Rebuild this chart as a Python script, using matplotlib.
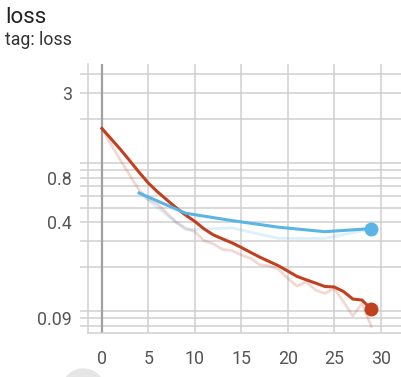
import numpy as np
import matplotlib
matplotlib.use('Agg')
import matplotlib.pyplot as plt
from matplotlib.patches import Ellipse

plt.rcParams['font.family'] = ['Roboto', 'DejaVu Sans']

# train loss (red), one value per step
train_steps = list(range(30))
train_raw = [1.72, 1.33, 1.05, 0.83, 0.66, 0.57, 0.53, 0.46, 0.40, 0.365,
             0.345, 0.30, 0.285, 0.262, 0.257, 0.24, 0.228, 0.206, 0.203, 0.192,
             0.167, 0.148, 0.158, 0.139, 0.132, 0.143, 0.116, 0.093, 0.113, 0.079]
train_smooth = [1.72, 1.46, 1.24, 1.04, 0.87, 0.735, 0.64, 0.565, 0.50, 0.447,
                0.405, 0.36, 0.328, 0.308, 0.29, 0.27, 0.25, 0.232, 0.217, 0.203,
                0.187, 0.172, 0.163, 0.155, 0.147, 0.146, 0.136, 0.121, 0.119, 0.103]

# validation loss (blue), every 5 steps
val_steps = [4, 9, 14, 19, 24, 29]
val_raw = [0.63, 0.355, 0.366, 0.311, 0.311, 0.36]
val_smooth = [0.63, 0.46, 0.41, 0.37, 0.345, 0.362]

grid_vals = [0.08, 0.09, 0.1, 0.2, 0.3, 0.4, 0.5, 0.6, 0.7, 0.8, 0.9, 1, 2, 3, 4]
labelled = {3: '3', 0.8: '0.8', 0.4: '0.4', 0.09: '0.09'}
x_ticks = [0, 5, 10, 15, 20, 25, 30]

red = '#c1401f'
blue = '#5ab4e6'
grid_c = '#cfcfcf'

fig = plt.figure(figsize=(4.02, 3.77), dpi=100)
ax = fig.add_axes([88 / 402, 44 / 377, 314 / 402, 269 / 377])

ax.plot(train_steps, train_raw, color=red, alpha=0.2, lw=2.0, solid_joinstyle='round')
ax.plot(val_steps, val_raw, color=blue, alpha=0.2, lw=2.0, solid_joinstyle='round')
ax.plot(train_steps, train_smooth, color=red, lw=2.2, solid_joinstyle='round')
ax.plot(val_steps, val_smooth, color=blue, lw=2.2, solid_joinstyle='round')
ax.plot(train_steps[-1:], train_smooth[-1:], 'o', color=red, ms=9)
ax.plot(val_steps[-1:], val_smooth[-1:], 'o', color=blue, ms=9)

ax.set_yscale('log')
ax.set_xlim(-1.5, 32.3)
ax.set_ylim(0.0713, 4.69)

ax.set_yticks(grid_vals)
ax.set_yticklabels([labelled.get(v, '') for v in grid_vals])
ax.yaxis.set_minor_locator(matplotlib.ticker.NullLocator())
ax.set_xticks(x_ticks)
ax.set_xticklabels([str(t) for t in x_ticks])

ax.grid(True, color=grid_c, lw=1.1)
ax.axvline(0, color='#a0a0a0', lw=1.6, zorder=1.5)
ax.set_axisbelow(True)

ax.tick_params(axis='y', length=6, width=1.1, color=grid_c, pad=5.5,
               labelsize=12.8, labelcolor='#555555')
ax.tick_params(axis='x', length=0, pad=12, labelsize=12.8, labelcolor='#555555')

for s in ['top', 'right']:
    ax.spines[s].set_visible(False)
for s in ['left', 'bottom']:
    ax.spines[s].set_color(grid_c)
    ax.spines[s].set_linewidth(1.1)

fig.text(5 / 402, 1 - 23 / 377, 'loss', fontsize=16, color='#212121', va='baseline')
fig.text(5 / 402, 1 - 45 / 377, 'tag: loss', fontsize=12.8, color='#333333', va='baseline')

# grey circle peeking in at the bottom left
fig.patches.append(Ellipse((83.3 / 402, 1 - 390.4 / 377), 42.8 / 402, 42.8 / 377,
                           transform=fig.transFigure, color='#e6e6e6', zorder=0))

fig.savefig('out.png', dpi=100)
